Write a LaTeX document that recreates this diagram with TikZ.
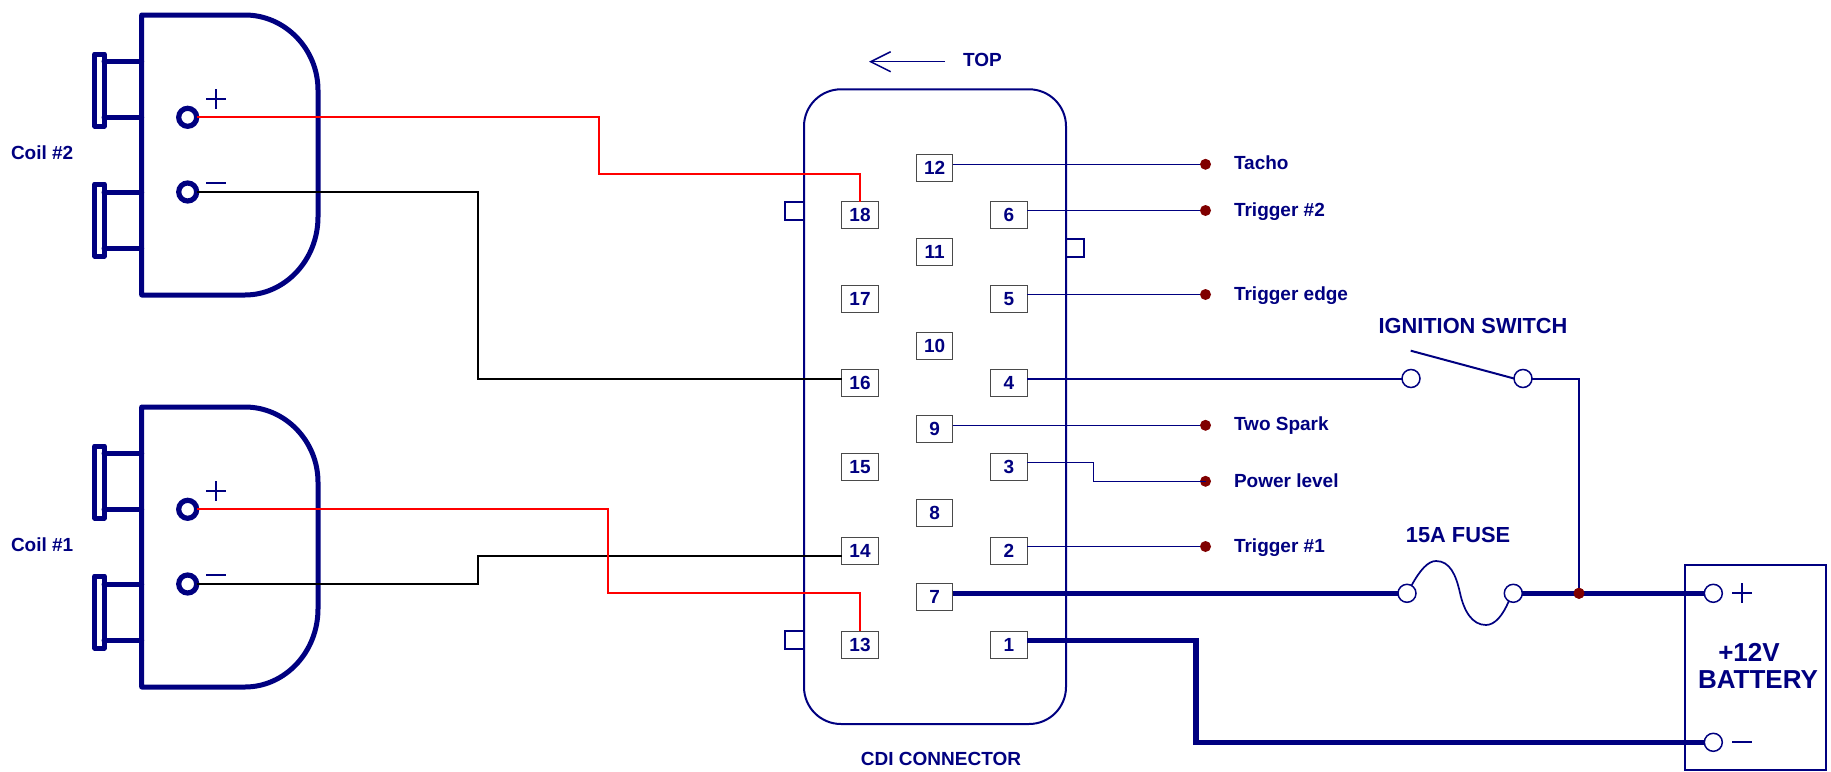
\documentclass[tikz,border=0pt]{standalone}
\usepackage{fontspec}
\setmainfont{Liberation Sans}
\usetikzlibrary{arrows.meta}
\definecolor{nv}{HTML}{000080}
\definecolor{dk}{HTML}{800000}
\definecolor{bx}{HTML}{4A4A4A}
\tikzset{
  x=1pt,y=-1pt,
  lab/.style={inner sep=0pt,outer sep=0pt,text=nv,font=\bfseries\fontsize{19}{22}\selectfont},
  biglab/.style={inner sep=0pt,outer sep=0pt,text=nv,font=\bfseries\fontsize{21.8}{25}\selectfont},
  batlab/.style={inner sep=0pt,outer sep=0pt,text=nv,font=\bfseries\fontsize{26}{30}\selectfont},
  pin/.style={draw=bx,fill=white,line width=1pt,minimum width=36.5pt,minimum height=27pt,inner sep=0pt,outer sep=0pt,text=nv,font=\bfseries\fontsize{19}{22}\selectfont},
  coilterm/.style={circle,draw=nv,fill=white,line width=5.2pt,minimum size=18pt,inner sep=0pt,outer sep=0pt},
  term/.style={circle,draw=nv,fill=white,line width=1.5pt,minimum size=18pt,inner sep=0pt,outer sep=0pt},
  dot/.style={circle,fill=dk,minimum size=11pt,inner sep=0pt,outer sep=0pt},
  coilline/.style={draw=nv,line width=5pt,line join=round,line cap=round},
  shell/.style={draw=nv,line width=2pt},
  sign/.style={draw=nv,line width=1.7pt},
  thin wire/.style={draw=nv,line width=1.3pt},
  mid wire/.style={draw=nv,line width=2pt},
  thick wire/.style={draw=nv,line width=5.3pt,line join=miter},
  red wire/.style={draw=red,line width=2pt},
  black wire/.style={draw=black,line width=2pt},
}
\begin{document}
\begin{tikzpicture}
\useasboundingbox (0,0) rectangle (1831,771);
% connector shell
\draw[shell,rounded corners=37pt] (804,89.3) rectangle (1066,724);
\draw[shell] (804,202) -- (785,202) -- (785,220) -- (804,220);
\draw[shell] (804,630.5) -- (785,630.5) -- (785,649) -- (804,649);
\draw[shell] (1066,239) -- (1084,239) -- (1084,257) -- (1066,257);
% coils
\foreach \o/\n in {0/b,392/a}{
  \begin{scope}[yshift=-\o pt]
    \draw[coilline] (141.7,15) -- (245,15) .. controls (285,15) and (318,49) .. (318,90)
      -- (318,217) .. controls (318,260) and (285,295) .. (245,295) -- (141.7,295) -- cycle;
    \draw[coilline] (94.8,54) rectangle (104.2,126);
    \draw[coilline] (94.8,184) rectangle (104.2,256);
    \draw[coilline] (104,61) -- (141.7,61);
    \draw[coilline] (104,117.3) -- (141.7,117.3);
    \draw[coilline] (104,192) -- (141.7,192);
    \draw[coilline] (104,248) -- (141.7,248);
    \draw[sign] (206,99) -- (226,99);
    \draw[sign] (216,89) -- (216,109);
    \draw[sign] (206,182.7) -- (226,182.7);
    \node[coilterm] (\n p) at (187.7,117.3) {};
    \node[coilterm] (\n m) at (187.7,192) {};
  \end{scope}
}
\node[lab,anchor=west] (coil2) at (11,153) {Coil \#2};
\node[lab,anchor=west] (coil1) at (11,545) {Coil \#1};
% pins
\node[pin] (p12) at (934.7,168.3) {12};
\node[pin] (p18) at (860,215.3) {18};
\node[pin] (p6) at (1009,215.3) {6};
\node[pin] (p11) at (934.7,252.3) {11};
\node[pin] (p17) at (860,299) {17};
\node[pin] (p5) at (1009,299) {5};
\node[pin] (p10) at (934.7,346) {10};
\node[pin] (p16) at (860,383.3) {16};
\node[pin] (p4) at (1009,383.3) {4};
\node[pin] (p9) at (934.7,429) {9};
\node[pin] (p15) at (860,467) {15};
\node[pin] (p3) at (1009,467) {3};
\node[pin] (p8) at (934.7,513.3) {8};
\node[pin] (p14) at (860,551) {14};
\node[pin] (p2) at (1009,551) {2};
\node[pin] (p7) at (934.7,597.3) {7};
\node[pin] (p13) at (860,644.5) {13};
\node[pin] (p1) at (1009,644.5) {1};
% terminals and dots
\node[dot] (d12) at (1205.5,164.3) {};
\node[dot] (d6) at (1205.5,210.5) {};
\node[dot] (d5) at (1205.5,294.5) {};
\node[dot] (d9) at (1205.5,425.3) {};
\node[dot] (d3) at (1205.5,481.3) {};
\node[dot] (d2) at (1205.5,546.5) {};
\node[lab,anchor=base west] (l12) at (1234,169) {Tacho};
\node[lab,anchor=base west] (l6) at (1234,216) {Trigger \#2};
\node[lab,anchor=base west] (l5) at (1234,300) {Trigger edge};
\node[lab,anchor=base west] (l9) at (1234,430) {Two Spark};
\node[lab,anchor=base west] (l3) at (1234,487) {Power level};
\node[lab,anchor=base west] (l2) at (1234,552) {Trigger \#1};
% battery
\draw[shell] (1685.3,565) rectangle (1826,770);
\node[term] (sL) at (1411,378.5) {};
\node[term] (sR) at (1523,378.5) {};
\node[term] (fL) at (1407,593.3) {};
\node[term] (fR) at (1513.3,593.3) {};
\node[term] (bP) at (1713.3,593.3) {};
\node[term] (bM) at (1713.3,742.3) {};
\node[dot] (j) at (1579,593.3) {};
\draw[sign] (1732,593.3) -- (1752,593.3);
\draw[sign] (1742,583.3) -- (1742,603.3);
\draw[sign] (1732,742.3) -- (1752,742.3);
% wires
\draw[thin wire] (p12.east |- d12.center) -- (d12.west);
\draw[thin wire] (p6.east |- d6.center) -- (d6.west);
\draw[thin wire] (p5.east |- d5.center) -- (d5.west);
\draw[thin wire] (p9.east |- d9.center) -- (d9.west);
\draw[thin wire] (p3.east |- 0,462.5) -- (1093.3,462.5) -- (1093.3,481.3) -- (d3.center);
\draw[thin wire] (p2.east |- d2.center) -- (d2.west);
\draw[mid wire] (p4.east |- sL.center) -- (sL.west);
\draw[mid wire] (sR.east) -- (1579,378.5) -- (j.center);
\coordinate (armEnd) at (1410.7,350.7);
\draw[mid wire] (armEnd) -- (sR.west);
\draw[thick wire] (p7.east |- fL.center) -- (fL.west);
\draw[thick wire] (fR.east) -- (j.center) -- (bP.west);
\draw[thick wire] (p1.east |- 0,640.5) -- (1196,640.5) -- (1196,742.3) -- (bM.west);
\draw[mid wire,line width=1.7pt] (fL.60) .. controls (1420,570) and (1428,561) .. (1436,561)
  .. controls (1450,561) and (1456,575) .. (1460,593)
  .. controls (1464,611) and (1472,625) .. (1486,625)
  .. controls (1495,625) and (1503,615) .. (fR.240);
\draw[red wire] (bp.east) -- (599,117.3) -- (599,173.5) -- (p18.center |- 0,173.5) -- (p18.north);
\draw[black wire] (bm.east) -- (477.7,192) -- (477.7,379) -- (p16.west |- 0,379);
\draw[black wire] (am.east) -- (477.7,584) -- (477.7,556.3) -- (p14.west |- 0,556.3);
\draw[red wire] (ap.east) -- (608.3,509.3) -- (608.3,593.3) -- (p13.center |- 0,593.3) -- (p13.north);
\node[dot] at (j) {};
% labels
\coordinate (arrowStart) at (945,61.7);
\coordinate (arrowEnd) at (869,61.7);
\draw[draw=nv,line width=1.5pt,-{Straight Barb[length=20pt,width=20pt,line width=1.5pt]}] (arrowStart) -- (arrowEnd);
\node[lab,anchor=west] (top) at (963,60) {TOP};
\node[lab] (cdi) at (941,759) {CDI CONNECTOR};
\node[biglab] (ign) at (1473,326) {IGNITION SWITCH};
\node[biglab] (fuse) at (1458,535) {15A FUSE};
\node[batlab] (v12) at (1749,652) {+12V};
\node[batlab] (bat) at (1758,680) {BATTERY};
\end{tikzpicture}
\end{document}
